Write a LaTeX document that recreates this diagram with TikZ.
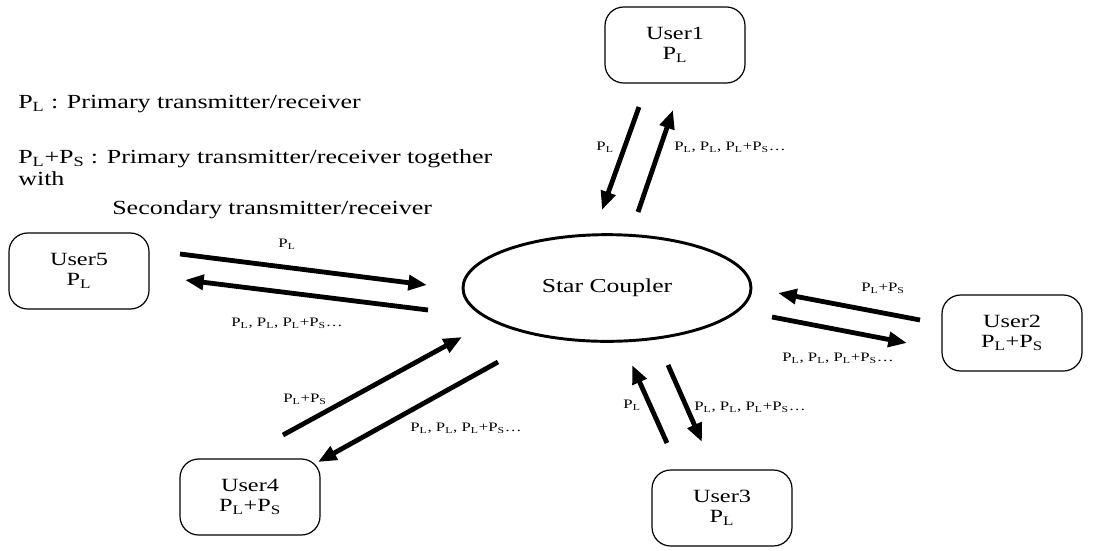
\documentclass[tikz,border=0pt]{standalone}
\usepackage{fontspec}
\setmainfont{Liberation Serif}[FakeStretch=1.3]
\usepackage{tikz}
\usetikzlibrary{arrows.meta, shapes.geometric}
\newcommand{\sigL}{P\textsubscript{L}}
\newcommand{\sigS}{P\textsubscript{S}}

\begin{document}
\begin{tikzpicture}[
  x=0.75pt, y=-0.75pt,
  user/.style    = {rectangle, rounded corners=14pt, draw, line width=0.9pt,
                    minimum width=105pt, minimum height=57pt, align=center,
                    font=\fontsize{14}{15}\selectfont},
  coupler/.style = {ellipse, draw, line width=2.2pt, minimum width=216pt,
                    minimum height=80pt, font=\fontsize{14.8}{16}\selectfont},
  arrow/.style   = {-{Triangle[length=14pt,width=11pt]}, line width=3.6pt},
  sig/.style     = {font=\fontsize{9.7}{11}\selectfont, inner sep=1pt},
  legend/.style  = {anchor=west, align=left, inner sep=0pt,
                    font=\fontsize{15}{16.5}\selectfont}
]
\useasboundingbox (0,0) rectangle (1094,550);

\node[legend] (keyL)  at (18,104) {\sigL{} : Primary transmitter/receiver};
\node[legend] (keyLS) at (18,168)
  {\sigL+\sigS{} : Primary transmitter/receiver together\\with};
\node[legend] (keySec) at (112,210) {Secondary transmitter/receiver};

\node[coupler] (star) at (607,288) {Star Coupler};

\node[user] (user1) at (675,45)  {User1\\\sigL};
\node[user] (user2) at (1012,333) {User2\\\sigL+\sigS};
\node[user] (user3) at (722,508) {User3\\\sigL};
\node[user] (user4) at (250,497) {User4\\\sigL+\sigS};
\node[user] (user5) at (79,271)  {User5\\\sigL};

\coordinate (d1a) at (639,107); \coordinate (d1b) at (602,210);
\coordinate (u1a) at (638,212); \coordinate (u1b) at (673,110);
\coordinate (u2a) at (920,320); \coordinate (u2b) at (778,293);
\coordinate (d2a) at (772,317); \coordinate (d2b) at (907,343);
\coordinate (u3a) at (667,443); \coordinate (u3b) at (632,365);
\coordinate (d3a) at (668,365); \coordinate (d3b) at (702,442);
\coordinate (u4a) at (283,435); \coordinate (u4b) at (462,337);
\coordinate (d4a) at (498,362); \coordinate (d4b) at (318,462);
\coordinate (u5a) at (180,254); \coordinate (u5b) at (427,285);
\coordinate (d5a) at (428,310); \coordinate (d5b) at (185,280);

\draw[arrow] (d1a) -- (d1b);
\draw[arrow] (u1a) -- (u1b);
\draw[arrow] (u2a) -- (u2b);
\draw[arrow] (d2a) -- (d2b);
\draw[arrow] (u3a) -- (u3b);
\draw[arrow] (d3a) -- (d3b);
\draw[arrow] (u4a) -- (u4b);
\draw[arrow] (d4a) -- (d4b);
\draw[arrow] (u5a) -- (u5b);
\draw[arrow] (d5a) -- (d5b);

\node[sig] (s1a) at (605,147) {\sigL};
\node[sig] (s1b) at (730,147) {\sigL, \sigL, \sigL+\sigS\dots};
\node[sig] (s2a) at (883,288) {\sigL+\sigS};
\node[sig] (s2b) at (838,358) {\sigL, \sigL, \sigL+\sigS\dots};
\node[sig] (s3a) at (632,405) {\sigL};
\node[sig] (s3b) at (750,407) {\sigL, \sigL, \sigL+\sigS\dots};
\node[sig] (s4a) at (305,399) {\sigL+\sigS};
\node[sig] (s4b) at (466,428) {\sigL, \sigL, \sigL+\sigS\dots};
\node[sig] (s5a) at (287,244) {\sigL};
\node[sig] (s5b) at (287,323) {\sigL, \sigL, \sigL+\sigS\dots};

\end{tikzpicture}
\end{document}
